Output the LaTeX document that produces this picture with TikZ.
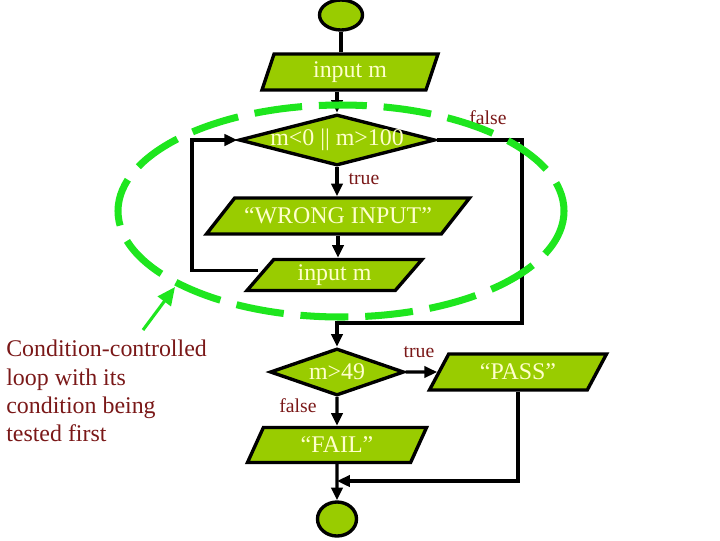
\documentclass[tikz,border=0pt]{standalone}
\usepackage{fontspec}
\setmainfont{Liberation Serif}
\usetikzlibrary{arrows.meta,shapes.geometric}

\definecolor{boxfill}{RGB}{153,204,0}
\definecolor{boxtext}{RGB}{255,255,204}
\definecolor{labelred}{RGB}{122,24,24}
\definecolor{loopgreen}{RGB}{30,230,30}

\begin{document}
\begin{tikzpicture}[x=0.025cm,y=-0.025cm,
  flowbox/.style={draw,line width=2.4pt,fill=boxfill,text=boxtext,font=\fontsize{17}{20}\selectfont,inner sep=0pt},
  io/.style={flowbox,trapezium,trapezium left angle=#1,trapezium right angle={180-#1},trapezium stretches body},
  decision/.style={flowbox,diamond,aspect=4},
  terminal/.style={flowbox,ellipse},
  flow/.style={line width=2.4pt,-{Triangle[length=3.2mm,width=2.8mm]}},
  tag/.style={text=labelred,font=\fontsize{14}{16}\selectfont}]
  \useasboundingbox (0,0) rectangle (720,540);

  \node[terminal,minimum width=10.75mm,minimum height=7.5mm] (start) at (341,15) {};
  \node[io=60,minimum width=44mm,minimum height=9mm] (inp1) at (350,72) {input m};
  \node[decision,minimum width=49mm,minimum height=12.75mm] (cond1) at (337,140) {\makebox[0pt]{m<0 || m>100}};
  \node[io=30,minimum width=65.75mm,minimum height=9mm] (wrong) at (338,216) {\makebox[0pt]{“WRONG INPUT”}};
  \node[io=38,minimum width=43.75mm,minimum height=7.75mm] (inp2) at (334.5,275) {input m};
  \node[decision,minimum width=33.5mm,minimum height=11.75mm] (cond2) at (337,372) {\makebox[0pt]{m>49}};
  \node[io=40,minimum width=44.25mm,minimum height=9mm] (pass) at (518,372) {“PASS”};
  \node[io=45,minimum width=44.75mm,minimum height=8.75mm] (fail) at (337,445) {“FAIL”};
  \node[terminal,minimum width=9.75mm,minimum height=8.5mm] (stop) at (337,519) {};

  \node[tag] (f1) at (488,118) {false};
  \node[tag] (t1) at (364,179) {true};
  \node[tag] (t2) at (419,352) {true};
  \node[tag] (f2) at (298,406) {false};

  \node[text=labelred,font=\fontsize{17}{20.1}\selectfont,align=left,anchor=north west,inner sep=0pt] (note) at (6,340) {Condition-controlled\\loop with its\\condition being\\tested first};

  \draw[line width=2.4pt] (start.south) -- (start.south |- inp1.north);
  \draw[flow] (inp1.south -| cond1.north) -- (cond1.north);
  \draw[flow] (cond1.south) -- (cond1.south |- wrong.north);
  \draw[flow] (wrong.south) -- (wrong.south |- inp2.north);
  \coordinate (loopL) at (192,200);
  \draw[flow] ([yshift=1.2mm]inp2.west) -| (loopL) |- (cond1.west);
  \coordinate (loopR) at (522,323);
  \draw[flow] (cond1.east) -| (loopR) -| (cond2.north);
  \draw[flow] (cond2.east) -- (pass.west);
  \draw[flow] (cond2.south) -- (fail.north);
  \draw[flow] (fail.south) -- (stop.north);
  \coordinate (join) at (337,481);
  \draw[flow] (pass.south) |- (join);

  % the loop being pointed at
  \draw[loopgreen,line width=5pt,dash pattern=on 12mm off 4.2mm] (341,211) ellipse [x radius=223,y radius=106];
  \coordinate (hintTail) at (143,330);
  \coordinate (hintHead) at (175,287);
  \draw[loopgreen,line width=2.2pt,-{Triangle[length=4.5mm,width=4mm]}] (hintTail) -- (hintHead);
\end{tikzpicture}
\end{document}
